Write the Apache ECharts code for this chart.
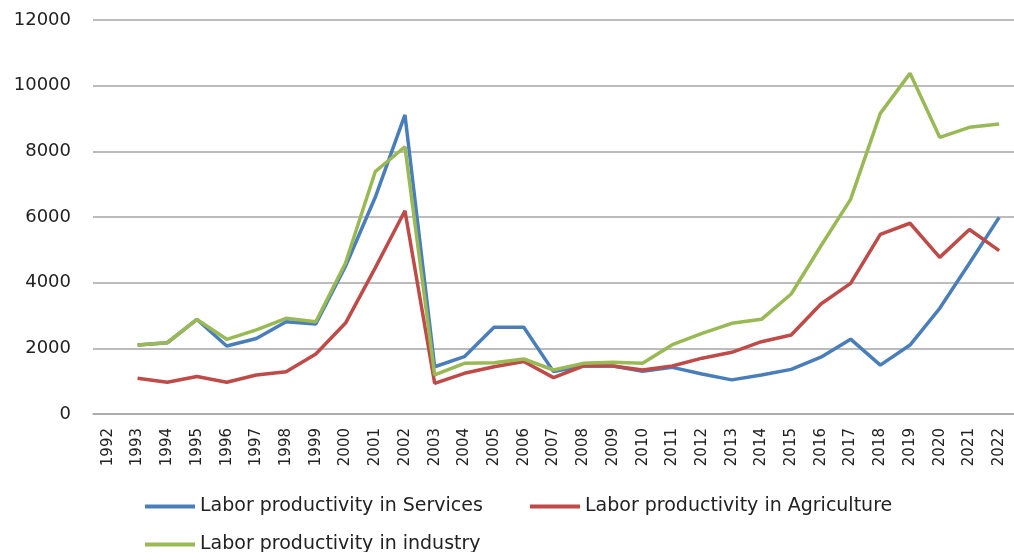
<!DOCTYPE html>
<html>
<head>
<meta charset="utf-8">
<script src="https://cdn.jsdelivr.net/npm/echarts@6/dist/echarts.min.js"></script>
<style>
	html, body { margin: 0; padding: 0; background: #fff; }
	#chart { width: 1014px; height: 552px; }
</style>
</head>
<body>
<div id="chart"></div>
<script>
var years = ['1992','1993','1994','1995','1996','1997','1998','1999','2000','2001','2002','2003','2004','2005','2006','2007',
	'2008','2009','2010','2011','2012','2013','2014','2015','2016','2017','2018','2019','2020','2021','2022'];

var services = [null, 2100, 2170, 2880, 2070, 2300, 2810, 2740, 4500, 6600, 9110, 1440, 1745, 2640, 2640, 1290,
	1460, 1460, 1300, 1420, 1220, 1040, 1190, 1360, 1730, 2280, 1490, 2100, 3220, 4590, 5990];
var agriculture = [null, 1090, 965, 1140, 965, 1190, 1290, 1830, 2770, 4450, 6190, 935, 1240, 1440, 1600, 1107,
	1462, 1462, 1340, 1460, 1700, 1880, 2203, 2406, 3350, 3980, 5470, 5810, 4770, 5620, 4975];
var industry = [null, 2100, 2170, 2880, 2275, 2560, 2915, 2810, 4600, 7380, 8140, 1190, 1543, 1563, 1675, 1340,
	1543, 1574, 1543, 2110, 2457, 2762, 2884, 3654, 5117, 6538, 9157, 10375, 8426, 8731, 8832];

var seriesNames = ['Labor productivity in Services', 'Labor productivity in Agriculture', 'Labor productivity in industry'];
var seriesColors = ['#4A7EBB', '#BE4B48', '#98B954'];

var chart = echarts.init(document.getElementById('chart'));

function makeLegend(name, left, top) {
	return {
		data: [name],
		left: left,
		top: top,
		icon: 'rect',
		itemWidth: 50,
		itemHeight: 4,
		itemGap: 5,
		selectedMode: false,
		textStyle: {
			color: '#222',
			fontFamily: 'DejaVu Sans',
			fontSize: 19,
			padding: [0, 0, 0, 0]
		}
	};
}

function makeLine(name, data, color) {
	return {
		name: name,
		type: 'line',
		data: data,
		symbol: 'none',
		smooth: false,
		lineStyle: { color: color, width: 3.5 },
		itemStyle: { color: color }
	};
}

var option = {
	backgroundColor: '#fff',
	animation: false,
	grid: {
		left: 93,
		right: 0,
		top: 20,
		bottom: 138,
		containLabel: false
	},
	legend: [
		makeLegend(seriesNames[0], 140, 492),
		makeLegend(seriesNames[1], 525, 492),
		makeLegend(seriesNames[2], 140, 530)
	],
	xAxis: {
		type: 'category',
		data: years,
		boundaryGap: true,
		axisTick: { show: false },
		axisLine: { show: true, lineStyle: { color: '#a6a6a6', width: 1.5 } },
		axisLabel: {
			rotate: 90,
			interval: 0,
			margin: 14,
			color: '#222',
			fontFamily: 'DejaVu Sans',
			fontSize: 15
		}
	},
	yAxis: {
		type: 'value',
		min: 0,
		max: 12000,
		interval: 2000,
		axisLine: { show: false },
		axisTick: { show: false },
		axisLabel: {
			margin: 22,
			color: '#222',
			fontFamily: 'DejaVu Sans',
			fontSize: 18,
			formatter: function (v) { return String(v); }
		},
		splitLine: { lineStyle: { color: '#a6a6a6', width: 1.5 } }
	},
	series: [
		makeLine(seriesNames[0], services, seriesColors[0]),
		makeLine(seriesNames[1], agriculture, seriesColors[1]),
		makeLine(seriesNames[2], industry, seriesColors[2])
	]
};

chart.setOption(option);
</script>
</body>
</html>
